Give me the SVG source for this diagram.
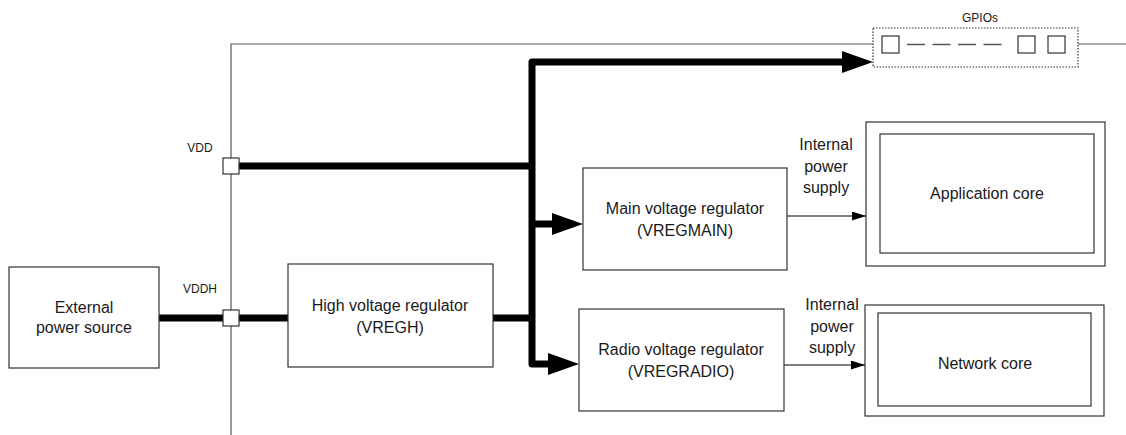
<svg xmlns="http://www.w3.org/2000/svg" width="1126" height="435" viewBox="0 0 1126 435">
<style>
  .box { fill: #fff; stroke: #333; stroke-width: 1.2; }
  .thin { fill: none; stroke: #555; stroke-width: 1.2; }
  .thick { fill: none; stroke: #000; stroke-width: 7; stroke-linejoin: round; }
  .head { fill: #000; }
  .wire { fill: none; stroke: #000; stroke-width: 1.2; }
  text { font-family: "Liberation Sans", Arial, sans-serif; fill: #1a1a1a; text-anchor: middle; }
  .lbl { font-size: 16px; }
  .sm { font-size: 12px; }
  .pin { fill: #fff; stroke: #333; stroke-width: 1.2; }
</style>
<defs>
  <marker id="ah" markerWidth="14" markerHeight="9" refX="14" refY="4.5" orient="auto" markerUnits="userSpaceOnUse">
    <path d="M0,0 L14,4.5 L0,9 Z" fill="#000"/>
  </marker>
</defs>

<g id="connectors">
  <path class="thin" d="M231 435 V44 H873"/>
  <path class="thin" d="M1078 44 H1126"/>
  <path class="thick" d="M845 62 H532 V364 H550"/>
  <path class="thick" d="M239 166 H532"/>
  <path class="thick" d="M493 318 H532"/>
  <path class="thick" d="M532 224 H554"/>
  <path class="thick" d="M159 318 H223"/>
  <path class="thick" d="M239 318 H288"/>
  <polygon class="head" points="842,51 873,62 842,73"/>
  <polygon class="head" points="552,213 583,224 552,235"/>
  <polygon class="head" points="548,353 579,364 548,375"/>
  <path class="wire" d="M787 216 H866" marker-end="url(#ah)"/>
  <path class="wire" d="M784 365 H865" marker-end="url(#ah)"/>
  <text class="lbl" x="826" y="150">Internal</text>
  <text class="lbl" x="826" y="172">power</text>
  <text class="lbl" x="826" y="193">supply</text>
  <text class="lbl" x="832" y="310">Internal</text>
  <text class="lbl" x="832" y="332">power</text>
  <text class="lbl" x="832" y="353">supply</text>
</g>

<g id="vdd-pin">
  <rect class="pin" x="223" y="158" width="16" height="16"/>
  <text class="sm" x="200" y="152">VDD</text>
</g>

<g id="vddh-pin">
  <rect class="pin" x="223" y="310" width="16" height="16"/>
  <text class="sm" x="200" y="293">VDDH</text>
</g>

<g id="gpios">
  <rect x="873" y="28" width="205" height="39" fill="none" stroke="#333" stroke-width="1.2" stroke-dasharray="1.5,1.5"/>
  <text class="sm" x="980" y="22">GPIOs</text>
  <rect class="pin" x="882" y="36" width="17" height="17"/>
  <path d="M907 44.5 H1003" fill="none" stroke="#555" stroke-width="1.5" stroke-dasharray="18,7.5"/>
  <rect class="pin" x="1018" y="36" width="17" height="17"/>
  <rect class="pin" x="1048" y="36" width="17" height="17"/>
</g>

<g id="external-power-source">
  <rect class="box" x="9" y="267" width="150" height="101"/>
  <text class="lbl" x="84" y="313">External</text>
  <text class="lbl" x="84" y="333">power source</text>
</g>

<g id="vregh">
  <rect class="box" x="288" y="264" width="205" height="103"/>
  <text class="lbl" x="390" y="311">High voltage regulator</text>
  <text class="lbl" x="390" y="333">(VREGH)</text>
</g>

<g id="vregmain">
  <rect class="box" x="583" y="168" width="204" height="102"/>
  <text class="lbl" x="685" y="214">Main voltage regulator</text>
  <text class="lbl" x="685" y="236">(VREGMAIN)</text>
</g>

<g id="vregradio">
  <rect class="box" x="579" y="309" width="205" height="102"/>
  <text class="lbl" x="681" y="355">Radio voltage regulator</text>
  <text class="lbl" x="681" y="377">(VREGRADIO)</text>
</g>

<g id="application-core">
  <rect class="box" x="866" y="122" width="239" height="144"/>
  <rect class="box" x="880" y="134" width="214" height="119"/>
  <text class="lbl" x="987" y="199">Application core</text>
</g>

<g id="network-core">
  <rect class="box" x="865" y="305" width="239" height="111"/>
  <rect class="box" x="878" y="313" width="213" height="93"/>
  <text class="lbl" x="985" y="369">Network core</text>
</g>
</svg>
